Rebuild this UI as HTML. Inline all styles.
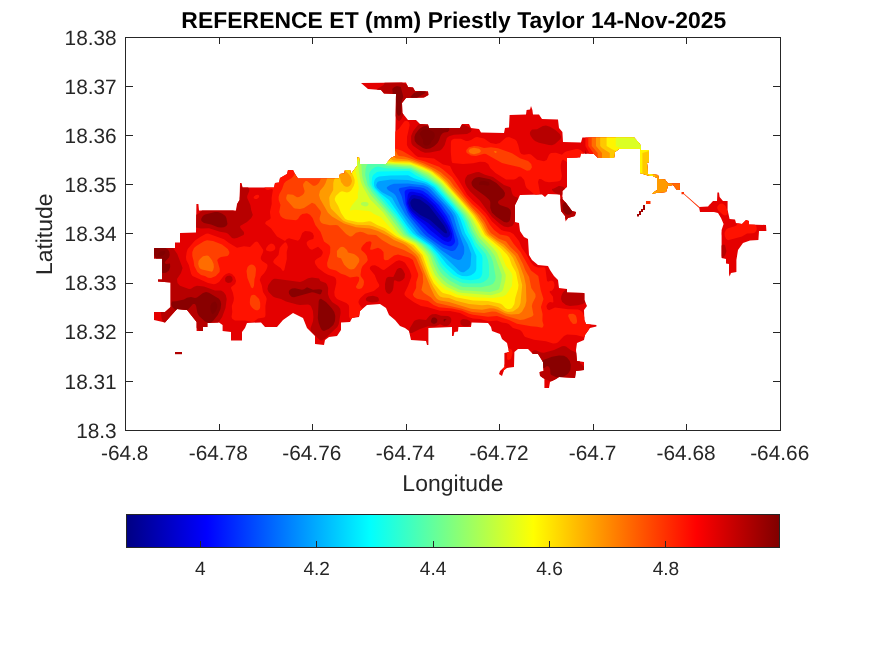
<!DOCTYPE html>
<html><head><meta charset="utf-8">
<style>
html,body{margin:0;padding:0;background:#fff;}
body{width:875px;height:656px;overflow:hidden;position:relative;font-family:"Liberation Sans",sans-serif;}
svg{position:absolute;left:0;top:0;}
text{font-family:"Liberation Sans",sans-serif;fill:#262626;text-rendering:geometricPrecision;}
.tk{font-size:20.83px;}
.cb{font-size:19.1px;}
.lb{font-size:22.9px;letter-spacing:0.08px;}
.tt{font-size:22.9px;font-weight:bold;fill:#000;letter-spacing:0.05px;}
</style></head><body>
<svg width="875" height="656" viewBox="0 0 875 656">
<defs>
<linearGradient id="jet" x1="0" x2="1" y1="0" y2="0">
<stop offset="0" stop-color="#000083"/>
<stop offset="0.123" stop-color="#0000ff"/>
<stop offset="0.373" stop-color="#00ffff"/>
<stop offset="0.623" stop-color="#ffff00"/>
<stop offset="0.873" stop-color="#ff0000"/>
<stop offset="1" stop-color="#800000"/>
</linearGradient>
</defs>
<rect x="0" y="0" width="875" height="656" fill="#fff"/>
<defs><clipPath id="sil"><path d="M154 248 175 248 175 242.4 180 242.4 180 233 196 232.5 196.4 204 198.4 204 199 210.4 236 210.4 237 204 239.6 200 240 183 241.6 183 242.4 187.6 274 187.6 275 183 279 182.4 280 178 287 174 288 170 293 170 295 174 298 178.5 339 178.5 340 174 344.4 173.6 345 170 350 170 351 174 357 166 357.6 157 359 157 359.6 164 386 164 391 158 395 156 396 94 384 93.6 381 90 368 89 361 83 406 82.4 408 87 413 87.6 415 91 428 91.6 428.4 95 424 97.6 406 98 402 103 402.4 113 408 120 416 120 420 124 428 124.4 429 128 460 128 462 124 469 124 471 128 479 129 481 132.5 504 133 505 128 509 127.6 509.6 115 526 114.4 526.6 110 530 109.6 531 106 532.4 110 533 114.4 539 114.4 542 119 558 119.6 559 128 562.4 132 563 142 581 142.4 582.4 137.6 634 137.6 639 143 641 146 641 150 649 150 649 162 647 163 648 174 658 175 659 179 665 179.6 668 183.6 680 183.6 679.6 190 677 190 673 185 668 186 666 192 652 193.6 657 190 657 178 653 176 648 175.6 640 173 640 149 619 149 615 152 614 158 598 158 594 154 581 153.6 580 157.6 567 158 567 187 562.4 191 562.4 199 566 203 572 211 576 212 575 216 568 218 565.6 221.4 565 216 561 211 560 194.6 548 194 545 197 542 194.6 520 195 515 205 515 222 519 223 520 231 524 237 528 239 529 255 532 260 538 265 548 266 550 270 554 276 558 280 559 288 567 289 567 292.4 584.4 293 584.4 300 587 306 584 310 584.4 320 586 324 596.4 325 596.4 326.4 590 328 585 335 584 340 577 343 576 350 577 361 584 362 584 370 576 371 575 378 559 377 556 379 550 382 549 388 544.4 388 544.4 379 540 376 539.6 372 543.6 371 543 362 538 354 533 354 528 349 518 349 514.4 352 514 367 507 368 504 370 502 376 499 374 500 371 504.4 367 504.4 353 509 352 507 343 502 339 500 334 492 331 491 327 488 323 471.6 322.4 471 327 458.4 327 458 331.6 454.4 332 453.6 336 452 336 452 327 428.4 328 428.4 345 427 345 426 341 411 340 409 331 405 328 400 326 395 320 389 315 386 308 380 304 367 305 360 311 359 317 352 318 350 322 341 322.4 341 330 337 336 329 337 325 340 324 345 315 344 315 336 307 328 303 318 293 313 283 320 277 327 265 327 261 322.4 247 323 245 328 242 332 242 340.4 231 340.4 231 332 222.6 331 222.6 325 219 322.4 207.4 323 207.4 327 203 327 203 331 196.6 331 196.6 322 187 310 177 309 165 322.4 154 320 154 312 165 312 170.6 307 170.6 282.4 158 281.6 158 279.6 162 279.6 162 258.4 154 258.4ZM699 207 708 206.4 713 201 717 201 717.4 192.4 719 192.4 719.6 197 723 201 727.6 201 727.6 210 729.6 219 735 219.4 736 223 742 224 746 220 749 221 749 224.4 766 225 766.4 231 759 231 758.4 240 750 240.4 743 243 738 250 736.4 260 736.4 272 731 273 729.6 276.4 729 274 729 264 726 263.6 726 259 721.6 258 721.6 230 723.6 224 721 218 718 213 714 212 700 212Z"/></clipPath></defs>
<g clip-path="url(#sil)">
<rect x="140" y="70" width="640" height="330" fill="#e40000"/>
<path fill="#ff1200" fill-rule="evenodd" d="M253.4 71 251.3 76 251.1 78 253 79.5 257 79.5 257.5 79 256.6 74 257.2 71ZM269.5 71 269.9 73 271 74.7 274 75.6 278 74.3 280.9 71ZM289.9 71 291 72 294 73.1 302 73.2 304 73.7 306 75.5 311 83 313 83.2 315 81.1 315.1 79 313.3 74 313 71ZM342.6 75 344.7 77 347 77.8 352 77.6 355 75.2 356.2 71 344 71ZM427.7 71 429 73.4 432 74.8 434 74 434.9 71ZM458.3 71 460 74.7 463 75.8 467 74.3 468.5 73 469.8 71ZM552.3 71 558 72.6 559 72.3 559.8 71ZM585.4 71 585.4 146 589.4 153 589.4 199 591 199.7 683.8 200 682.1 203 682 205 683 206.4 685 207.1 687 206.4 687.9 205 688.5 200 699 200 700 199 700 184.7 702.5 184 703.2 183 702 179.3 700 176.7 700 171.6 701 171.8 702 171.1 702.3 170 701.8 169 700 168.4 699.8 71ZM584 72.4 582.6 73 582 75 582.8 78 584 79.8 584.5 76ZM452 74.4 451 74.3 446.9 77 445.8 79 446.3 80 448 80.9 450.3 80 452.1 77ZM778 76.7 776 79.8 775.1 83 776 85.4 778 86.6ZM141 78.9 141 88.1 143.3 90 144.1 96 145 97.3 146 97.4 147 96.7 147.5 95 146.8 89 147.1 83 145 80ZM259.2 81 261 82.9 261.7 82 260 80.5ZM541 80.5 539.1 81 538 81.9 536.8 85 538 90.5 540 93.3 541 93.4 542 92.4 544.6 85 543.9 82ZM275.2 89 275.1 90 276 92 279 93.8 283 94.6 284.9 94 285.7 93 285.9 91 285.2 90 281 87.3 278 87.1 276.1 88ZM465 92.6 463 93.5 459 97.4 453 99.5 452 100.8 451.9 102 454.3 105 465 112.7 467 113.2 468 112.6 469 111 468.2 103 471 97 469 94.1ZM316 94.7 315 95.9 315 98 316 100 317 100.3 317.5 98 317 95.8ZM223 97.1 221 96.9 216 97.9 209 96.2 206.6 97 206.4 98 207.4 100 210 102.2 212.3 103 212.9 104 208.1 109 200.7 112 200.3 113 200.5 115 203 119.6 206 121.3 210 121.4 213 119.9 217.9 116 219.7 113 223.6 100 223.7 98ZM531.7 100 530 99.9 529 100.7 528.1 103 528.3 105 530 104.6 531.5 103 532.3 101ZM545.5 100 545.2 102 547.4 105 550 106.5 552 105.7 553.1 103 551.3 100 548 99.1ZM498.9 104 501 105.3 503 105 504.7 103 504.6 102 502 101.5 500 101.9 498.9 103ZM258 171 255.9 176 256.3 179 257.7 180 262 181.2 263.3 183 264.8 188 266 189.5 268 189.9 272 188.8 272.9 190 271.6 198 271.7 204 269.9 212 270.7 218 270 219.2 266 221.6 265.2 223 265.4 224 271 228.3 277 236.6 285 241 286.9 239 289 238.2 298 240.7 300 238.8 302.2 233 305 230.9 310 231.5 312.6 233 313.9 236 313.3 239 309 240.3 306.8 242 306.7 244 307.6 246 309.9 249 312 249.7 318 246.7 321.7 250 322.8 252 322.5 254 321 256.6 316.7 259 315 260.8 314.8 262 315.3 264 318 268.1 324.8 273 328 274.8 334 276.8 335.5 278 336.2 280 336.3 283 334.3 292 334.7 296 337 299 346.3 303 348.6 305 349.1 307 349 316.4 350.2 319 352 319.1 355.8 317 360 315.7 362 313.9 362.7 312 362.5 309 359 304 358.4 302 359 300 360.4 298 365 293.8 373.8 291 379 286.7 379.3 285 377 281.1 374.7 275 369.8 269 370 267 372 265.6 375 265.2 378.6 267 382 269.6 384 269.9 396 261.3 399 260.3 402 260.9 405 262.8 409.6 270 411.3 275 411.3 277 408 286 404.5 293 404.6 295 406.4 297 414 302.2 421 306.1 427 307 440 310.7 450 310.9 460 313.1 468 316.9 473 318.5 480 319 489 321.3 497 320.6 502 322.6 507 323.3 509 324.3 513 327.9 520 330.1 522.1 332 524.2 336 525.3 337 534 339.8 546 341.3 553 343.4 556 343.2 558 342.2 564 336.1 567 334.6 576 334.9 585 337.2 588 337.1 589 335.8 589 328.3 590.3 325 593 322.7 594 322.5 598 323.5 599.5 323 600.3 322 600 320.4 599 319.9 594 320.9 586 318.3 584.6 317 582.3 312 580 310.3 578 309.6 568 309.3 555 307.6 549 310.2 547.1 309 546.4 306 548 303.3 550 302.1 553 302.5 553.4 302 553 296.8 549.5 292 550 291.1 552 290.7 554 288 554.5 285 554 282.4 553 281 551 280.6 548 281.8 547 280.8 545.3 268 544 267.3 538 267.6 534 266 531 262.5 526.2 254 521.9 248 519 241.1 513.4 234 510 232 504 231 501.3 230 492 221.6 485.9 213 479 205.9 473 200.8 467 194.4 458.6 180 452.9 172 450 166.1 443 164.4 434 158.6 418 157 415.1 155 408.4 148 406.9 145 407 137 409.7 125 409 122.2 407 120.7 405 120.9 404 121.7 399 128.7 393 133.2 392.3 132 392.2 130 393.2 124 392 121.8 391 122.1 389 126 387 127.5 384 128.4 381 127.6 379.8 126 379.6 120 378.3 117 375 113.4 370 109.5 365 102.6 364 102.1 363 102.4 354.5 112 347 115.9 346.9 118 353 124.5 356 126.2 366 122.6 369 123.1 371 126 372.2 134 373.5 136 375 137 378 137.3 391 134.9 392 135.2 392.2 138 390.9 144 389.2 146 386 147 378 145.9 372 149.3 367 150 359.5 148 358.5 147 358.7 145 358 143.8 354 144.2 351 145.9 347.8 150 345 152 337 153.7 329.3 157 318 159.8 316.4 162 315.6 166 314.5 168 313 169.2 311 169.5 309 168.5 307.6 167 304.7 162 304.3 159 305 151 304.3 148 299.3 140 298 139.1 296 139 293.7 141 292.7 144 294.1 157 293 159.6 292 160.2 290 160 286 156.7 284 156.1 283 156.4 281.4 158 281.4 159 283.6 163 283.6 165 280.8 168 279 168.8 277 168.9 272 165.9 269 165.7 261.3 168ZM763 106.6 761.9 108 761.6 111 764 117.1 766 118.7 768 119.2 771.9 118 772.8 117 772.6 115 765 106.8ZM524.8 108 523 107.1 520.4 108 519.4 110 520 111.9 521.3 112 523.4 111 524.8 109ZM506 112.5 504 113.1 503 115 502.6 118 503 119.3 504 119.8 507 118.2 508.6 116 508.2 114ZM551 115.5 550 116 549.8 117 551 118.2 551.7 117ZM157 120.3 156.3 123 157.1 125 160 125.9 162.2 125 163.1 123 162 120.4 159 119.5ZM153 129.6 150 129.6 148.3 131 147.9 134 149 136 151 136.1 153.8 134 154.2 131ZM200 136.2 199 134.9 197 134.2 192 135.4 189.9 137 188 139.7 184 140.5 181 142 178.3 145 177.9 147 180 148.8 182 149.1 184 148.6 186.1 147 189 141.7 196 143.5 198 143.5 199 143 200.3 141 200.6 139ZM238 134.4 237.6 136 238 136.7 239 137 239.6 136 239.3 135ZM450.9 142 450.8 152 451.6 161 452.4 163 463 164 473 163.3 480 161.8 485 162 488.2 164 490.2 168 495.5 173 506 179.6 514 179.4 516 178.8 519 176.6 521 176.6 524.2 180 525.6 186 526.6 188 534 194 536 195 539 194.4 540 193 538 182 539 178.9 541 179 545 181.5 549 182.2 557 181.6 559.3 181 561 179.8 561.9 176 560.7 168 560.7 165 561.6 161 563 159.5 570 163.9 573 164.4 575 162.8 577 157.9 579 156.5 580 157.4 581.3 164 584 165.6 584 153.2 580.5 150 578 148.9 576 149 566 151.6 564 152.7 562 154.7 556 152.8 550.9 153 549 154.8 546.7 160 544 161.2 537 159.7 531 154.4 529 154 524 154.8 521.4 154 519.9 152 518.2 145 516.6 141 515 139.6 509 137 506 137.5 499.8 143 496 143.9 490.6 143 484 138.6 477 137.1 475 137.6 471 140.1 468 141.1 466 140.9 461 138.7 454 138.7 451.7 140ZM284 146.5 282.9 148 283 149.1 284 150 285 149.2 285.4 148 285 146.8ZM742 147.5 740 147.8 738.4 149 737.3 154 737.3 157 738 158.9 739 160.1 741 160.9 742.8 160 744 158.6 745.7 153 745.2 149 744 148ZM760.4 166 759.9 167 760.9 169 762 169.8 763 169.7 764 168 763.5 166 762 165.6ZM141 167.5 141 171.6 144.6 172 145.9 171 145.7 170 144.6 169ZM151.8 184 150 182.5 148 182.6 144 185.8 141 187 141 190.7 148 192.2 150 192 151.1 191 152.3 188 152.5 186ZM721 183.9 718.5 186 718.4 189 720 191 723 191.3 724.6 190 725.1 187 724 184.9 723 184.2ZM229 188.8 227 189 225.9 190 225.4 192 226 193.4 228 193.8 230.5 192 230.7 190ZM770 189.8 769.5 192 770 193.8 771 195.1 772 195.4 773.3 194 773.2 192 772 190.1 771 189.5ZM259 195.5 258 194.8 256 195 254 196.5 253.5 198 255 199.1 257 198.9 259.2 197ZM546 196.5 546 198 548 200.5 549 200.8 550 200.1 550 198.3 549 197.2ZM580 197.8 580.1 200 582.9 206 584.3 211 589.7 216 594 225.4 595 226.1 596 225.8 598 223.9 599.1 222 599.7 220 599.4 218 590.5 207 588.9 201 587.7 200 585 200 584 198.7ZM702 199.9 702 202 704 204.3 708 205.7 709.9 205 710 201.7 709.1 200 708 199.2 704 198.6ZM719 204.4 717.2 207 717.4 209 718.7 211 723 214.7 725 215.4 726.5 215 727.4 214 727.8 212 725.6 206 723 203.8 721 203.6ZM551 208.4 550.4 209 550.7 210 552 210.1 551.9 209ZM607.8 211 607 213 608.2 215 614 218.1 616 217.8 616.5 216 613 212.1 610 210.6ZM756.3 226 754 223.5 746 218.6 743 217.4 741 217.4 738.8 219 736.9 225 735 226.3 728 228.2 726 229.8 724.5 233 724.8 236 726 238.7 728 240.3 742 236.6 747 233.5 753 233.3 755 232.5 756.3 231 756.8 229ZM612 226.9 610 227.1 606.9 229 606.1 231 607 238 608 239.9 609 240.6 611 240.3 612 239.5 613.7 236 614 229.7 613.4 228ZM708 229.4 706.7 235 706.9 237 707.7 238 710 238.6 715 238.2 718 239.4 719 239.3 720 238.4 721.6 234 721.3 232 720 230.2 710 228.4ZM195 240.6 187.7 249 186.7 252 186 257 186.3 260 188.8 265 191.2 274 192.5 276 208 283.1 214 284.3 216 283.8 219 282 223.6 276 226 274 229 273.1 232 274 234.8 277 236.1 281 235.1 284 231.3 287 231 288 233 292.9 233.9 298 233.6 301 231.8 306 232.3 312 231.5 317 232.4 319 235 320.5 245 320.4 252 322 254 321.5 258 318.6 264 317.6 265 317 265.5 315 265.4 306 266.7 299 266.1 297 263 292 261.7 285 259.7 280 261 276.6 264.3 273 266.2 270 267.4 267 267.5 265 266.9 264 262.2 261 260.8 259 260.8 257 263.1 252 263.3 250 258 242.2 257 241.6 255 241.9 250 247.1 244 246.2 237 247.8 229 243 224 239.2 208 233.4 206 233.8 201 236.4ZM285 242.2 282 244.9 279.7 248 278.5 255 273.9 260 273.1 262 274.8 264 280.6 268 283 271.3 284.3 270 286.8 259 286.7 252 287.9 247 287 244 286 242.6ZM271 243.6 268.5 245 266.2 248 266 250 267 250.7 270 251.5 272 251.3 274 250.3 275.2 249 275.3 247 274.2 245 273 243.9ZM623.1 247 622.3 249 624.6 255 626 256.3 628 256.4 629.4 255 630 253 629 249.4 627.9 248 626 246.8ZM141 250.1 141 253.3 142.4 252 142.3 251ZM550.5 265 552 265.5 553.8 265 554.7 263 554 262.2 552 262.5 550.2 264ZM591.8 264 591.4 266 594.3 271 597 278.3 599 279.5 602 278.3 605 275 606.4 272 606.4 269 605.1 266 602 264.6 594 263.7ZM752 276.6 751.7 278 752.2 279 754 280.4 756 280.5 762 278.7 765 279.5 767.6 282 768.8 284 767 290 767.7 292 769 293.4 772 295 778 296.5 778 272.8 771 271.1 762.4 271 757 274.5ZM654 286.7 652 286.6 650.4 288 650 290 651 291.6 653 291.6 654.4 290 654.9 288ZM616.5 301 615.4 303 615.3 305 617 308 619 309.4 620 309.4 623.5 308 624.5 306 622.6 303 619 300.4 618 300.3ZM630.8 306 629.5 308 629.5 309 631.9 313 639 320.3 648 325.9 649 325.3 650.5 319 650 316 641 308.3 636 304.7 634 304.2ZM373.5 326 374.1 328 375 328.5 377 328.5 383 326.4 389 325.4 390.4 324 390.9 322 390 320.3 389 319.8 378 317.4 376 318.5 374.2 321ZM672 326.2 670 326.2 667 328 665.3 330 665.2 332 666.5 333 669 333.5 671 333.1 672.9 332 673.5 331 673.6 329ZM622 334 621 333.4 619 333.5 611.1 338 611.1 340 612 341 614 341.9 618.1 341 620.9 339 622.3 337 622.5 335ZM713.1 341 713.4 342 715 342.7 717 342.4 721 340.8 722 341 722.8 342 723.6 347 725 349.3 728 350 730 349 730.1 347 725.8 341 726.3 336 726 335 725 334.2 723 334.5 719.1 338 715 339.2ZM252.9 337 252.5 339 253.4 340 256 341.1 258 341 258.4 339 257 337 255 336.3ZM652 343.4 650 346.1 649.8 350 651 352.1 655 356.1 656 355.7 656.3 354 655.2 346 654 343.9ZM510 348.9 508 349.5 507 351.2 507.1 359 508 360.1 510 359.6 511 358.7 512.7 353 512.1 350ZM634 350.9 632.8 353 632.6 356 633.7 359 635 359.7 638.2 358 639.8 356 639.8 355 636.9 352 635 350.9ZM352.7 359 355.2 359 356.3 358 356.4 357 355 356.6 352.8 358ZM680 357 679.5 359 680.7 361 682 361.6 684.2 361 684.5 360 683.1 358 681 356.9ZM207.9 360 207 358.5 205 357.8 201 358.8 194 359.1 190.3 361 185 365.7 182.8 365 180 360.5 179 359.9 178 360.4 177 362.2 175.4 369 175.6 372 177 374 181 376.4 185 377.4 188 377.1 190 375.5 194 370.6 196 369.7 202 368.6 206 366.2 208.1 363ZM504 364.1 502.8 366 502.4 369 503.1 371 504 372 505 372.1 506 371 506.2 369 505 365ZM775 368.4 773.6 371 773.9 373 775 373.6 778 373.4 778 368.4ZM207 375.5 206.8 377 207.9 379 213 383.1 217 383.9 219 383.1 219.8 382 220.5 376 220 374.3 219 373.4 217 373.2 208 374.8ZM331 374.6 329.2 375 328 376.1 326.4 381 326.7 383 329 386.4 331 387.1 332.6 386 334 384 336.4 378 335 375.8ZM485.8 375 484 374.4 482 375.2 480.3 378 481 379.9 483 379.3 484.7 378 486.1 376ZM529 378 525 374.6 523.7 375 522.9 379 523.3 388 522.2 391 520 394.6 519 395.3 518 395.1 512 391.7 505 391 503.2 392 503 393 504.7 398 519.8 398 525.1 392 526.8 387 529.9 381ZM669 376.1 667 376.8 666 378.2 665.2 382 666 383.4 668 383.7 669.9 383 671.8 381 671.8 378 671 377ZM294 379.3 292 378.5 290 378.9 286.6 381 284.7 383 282.9 388 281.9 398 288.7 398 293.6 392 298.8 387 298.7 384ZM741.3 386 740.3 384 737 382.9 732 384.3 728 383.3 727 383.7 726.5 385 727 386.7 728.7 388 735 389.4 739 388.5 740.9 387ZM769 389 768 388 764 386.5 760.3 384 758 383.9 752 387.7 746 389.5 745.2 391 743.7 398 753.9 398 756 393.5 758 392.5 761 393.3 765.2 398 766.9 398 769.1 392ZM383.6 389 382.9 391 383 398 394.6 398 392.6 395 388 390.6 385 388.7Z"/>
<path fill="#ff4000" fill-rule="evenodd" d="M588.3 71 588.3 146 593.4 153 593.4 199 605 199.6 699 199.6 699.6 199 699.5 71ZM466.3 150 466.3 152 466.9 153 471 155.6 476 155.9 484 153.7 486 154 502 163.1 520 167.3 527 170.7 530 170.2 532 167.2 531.2 164 528.1 161 520 158.3 512 153.2 498 148.2 491 147.3 484 147.9 478 146.3 474 145.9 469 147.2ZM284 183.4 282.1 189 279.4 194 278.6 197 278.7 200 280.5 205 279.2 212 280.6 216 282.9 218 286 219.2 296 220.3 298 219 300 215.8 302.3 214 307 213.3 310 214.8 312.6 218 315.3 225 320.6 232 324 241.4 329 245.1 330.3 247 330.1 253 327.1 263 327.3 266 328 267.6 330 269.1 336 270.5 341 273.7 345.1 275 350 277.5 357 276.6 358.8 277 359.3 278 358.9 281 355.8 287 357 288.5 359 289.1 361 288.6 362 288 363.6 285 364 282 363.6 280 361 276.5 360.5 275 361.3 269 362.6 266 366.7 262 367.8 260 366.9 256 365 253.3 361.3 250 361.2 248 363 245.3 366.4 242 370 241.3 371.2 242 371.5 243 370 249.5 372 249.8 378 247.8 381 249.2 383.5 252 383.8 259 385 260.3 388 260 394 255.4 398 254.4 409 257.6 412.9 260 418.2 274 418.2 276 416.3 282 416.1 288 413 294 413 295 414.2 297 417 298.8 428 300.9 433.5 305 439 307.3 452 308.5 462 310.8 469 313.8 473 314.7 488 316.7 497 316 509 320 517 323.8 531 326.3 537 326.7 542 327.7 543 326.9 543.6 325 542.4 321 542.6 314 540.9 307 543.5 299 540.7 290 538.3 276 531 270.5 520.5 252 513.8 244 509.1 237 507 235.8 500 234.4 494.1 230 490 225 485 216.7 478 209.2 472 203.9 465 196 452 177.3 443 169.5 439 166.8 425 161.5 416.2 159 402 150.8 395 148.4 372 152.1 358 153.4 338 156.3 326 159.4 322.9 161 320.7 163 318 170.8 315 173.9 313 174.6 310 174.5 303 170.8 300 170.1 298 170.2 296 171.3 293.5 176 291.8 178 286 181.3ZM207 240.3 204 241.3 196.3 246 194 248 192.3 252 192.3 256 193.6 261 194.3 266 197.4 272 201 274.9 205 276 208 277.7 211 277.9 215.8 276 219.6 272 219.8 269 217.2 260 219 258 221 257.1 227.6 256 229.2 254 229.4 252 227.8 249 222 244.6 213 241.1ZM251 264.4 249 265.4 247.6 267 246.5 271 247.4 278 251 287 252 288.2 253 287.9 254 285.7 254.5 279 255.4 276 256 270 255.8 268 254.7 266 253 264.7ZM251 295.8 250 299 249.8 303 250.3 305 252 307.5 254 309.2 256 310.2 258 310.3 259.6 309 260.2 307 260.2 303 259.1 299 255 295.1 253 294.7ZM568.9 314 568.1 316 570.4 321 573 324 576 323.8 576.7 323 577.1 321 576.4 317 575.4 315 573 313.7Z"/>
<path fill="#ff6d00" fill-rule="evenodd" d="M591.7 71 591.7 146 597.7 153 597.7 199 633 199.6 699 199.2 699.2 71ZM468.5 151 470 153.2 474 154.3 479 153.1 480.4 152 480.8 151 480.5 150 479 148.8 474 147.7 470 148.8ZM287 194.8 286.1 198 286.7 200 293.8 208 295 208.6 300 208.9 304 208.1 312 202.8 315 204 320.6 211 321 213 319.6 218 319.7 220 321 222.4 323 223.8 330 225.3 336 224.9 338 225.4 346.1 234 350 236.4 352 236.2 356 232.8 360 231.8 363 232.2 368 234.4 376 235.1 382.1 240 391 245.3 404 250.1 412 254.2 415 256.8 416.5 259 422.7 274 423.2 282 421.4 290 424 293 431 297.6 434.1 301 437 303 461 308.4 472 311.9 484 312.9 492 311.5 496 311.7 506 315.9 520 319.9 524 319.5 532 316.4 533.5 315 531.8 306 532.6 303 535.6 297 535.4 294 531.3 288 529.1 277 525.2 270 522.9 264 517.7 254 510.4 247 506 241.5 499 238.8 490.9 233 488 228.8 484.7 222 479.5 215 471 206.2 458 190.4 454 186.3 449.6 180 441 172.5 435 168.7 424 163.5 409 157.9 404 156.5 399 155.9 397.7 155 396 151.5 394 150.6 359 154.7 337.6 158 327 160.8 324.4 163 323 166 320.4 180 319 182.7 317 184.8 315 185.7 313 185.7 307 181.1 305.5 181 303.2 184 303.1 186 304.6 191 304.2 193 302.5 195 299.1 197 297 197.3 293 194.8 288 194.3ZM493.9 151 495 152.9 496 153 496.8 152 496.1 151ZM340 247.6 336.9 251 337 256.5 338 257.4 341 258.2 344 264.6 347 267.6 349.1 269 351 269.5 354 268.9 355.8 267 359.1 262 359.4 260 358.8 258 356.9 256 354 254.1 348 252.4 347 250 344 247.3 342 246.8ZM203 256.2 200 258.9 198.6 261 198.2 264 199 267.1 200 268.6 202 269.5 212 271.7 213.2 270 213.9 267 213.6 264 212 260.3 208.7 256 207 255.5Z"/>
<path fill="#ff9b00" fill-rule="evenodd" d="M596 71 596 146 602 153 602 199 650 199.4 671.9 199 671.9 71ZM329.7 165 329 167 329 173 325.6 183 324 186 320 190.7 319 195 320.1 199 328 212.7 332 216.4 344 223.4 356 227.3 370 228.5 378 230.9 388 236 394 240.1 403.5 244 406.6 246 415.7 254 418.2 257 430.7 288 434.6 296 437 299.1 440 300.4 449 302.1 471 308.8 482 309.8 490 308.3 494 308.5 498 309.7 505 313.3 511 314.6 519 313.9 522 311.7 525.2 306 526.4 301 525.9 285 523.9 276 519.3 264 515.3 256 504 244.6 496.4 240 489 234.3 487 231.5 483.3 224 477 215 452.6 188 447 181 439.2 174 431 168.7 422 164.5 412 160.7 407 159.4 396 158.6 394 157.1 392.3 154 389 153.1 383 153.1 372 154.7 361 155.5 348 157.7 337.3 161Z"/>
<path fill="#ffc800" fill-rule="evenodd" d="M600.2 71 600.2 146 602 148 609.8 153 609.8 199 655.3 199 655.3 71ZM347.1 160 344.5 170 349 174.3 351 177 352 181 351.1 184 350 185.6 348 186.8 346 186.7 344 185.7 341 182 339.2 174 338 173.9 336 176.2 334 180 333.3 183 333.2 190 329.8 196 329.2 198 329.8 205 331 208.4 343 220.4 346 222.1 356 224.7 369 225.3 373 226.3 384 230.8 395 237.8 406.5 243 411.1 246 420 255 428.8 278 433 286.4 438 294.5 440 296.4 443 297.4 449 298.1 456 300.8 469 304 482 305.3 488 304.8 491 305.2 498 307.1 504.6 311 508 312 513 311.6 518 307.9 519.4 306 520.5 303 522.2 285 518.3 270 513.1 258 509.3 253 503.2 247 487.3 235 485.1 232 481.2 224 475 215 451.5 189 446.7 183 439.2 176 431 170.1 418 164.3 409 161.3 394 160.6 392 159.9 389 156.7 386 155.3 361 156.3 349 159Z"/>
<path fill="#fff500" fill-rule="evenodd" d="M606.6 71 606.6 146 612 149.2 620.6 153 620.6 199 642.4 199 642.4 153 649 151.1 649.2 199 652.7 199 652.7 71ZM350.7 161 350 163 350.4 170 353.8 177 354.7 180 354.6 183 353.7 186 351 190.5 349 192.1 347 192.4 342 191.3 340 191.9 335.8 196 334.7 199 335.2 201 338.2 206 341.1 213 345 218.7 347.5 220 358 222.2 363 222.3 369 221.3 371 221.5 377.2 225 385 228.3 396 236.2 413.5 245 422.4 255 429.6 275 434 283.4 441 291.5 443 293 450 294.7 456 297.3 473 300.4 488 301.1 500 303.4 502 304.5 505.3 308 507.5 309 510 309 512 307.9 514.4 304 515.3 298 518 289.1 518.5 285 516 272.5 511.8 265 509.3 258 507 254.6 500.7 248 485 235 479.1 224 473.9 216 462 202 443 181 432.2 172 423 167.5 410 162.6 395 162.2 390 161.6 388.8 161 387 157.8 385 156.6 361 157.1Z"/>
<path fill="#dbff24" fill-rule="evenodd" d="M615.8 71 615.8 146 622 148.5 640 148.5 649 146.4 649.8 147 650.1 199 650.1 71ZM355.4 161 354.4 163 354.8 168 357.6 180 358.8 188 357.7 194 358 198 352.2 205 349.8 209 350 210.6 355 209.7 368.5 211 371 211.8 374 214 381 217.2 394 232 397.3 235 402.1 238 415 244.3 422.3 252 425.1 256 430 270.3 434 278.5 438.2 284 445 289.5 450 291.1 458 294.9 475 297.2 493 298.1 503 296.4 506 294.8 512 286 512.5 276 511.5 273 506 266 500.3 252 497 248 483 235.1 475.3 221 471.4 215 461 202.7 442 181.6 430.2 172 421.5 168 410 163.7 389 162.6 387.6 162 385.4 158 384 157.4 362 157.7 360 158.3Z"/>
<path fill="#aeff51" fill-rule="evenodd" d="M358.5 161 357.7 163 359.7 177 360.9 182 362.5 186 370 199.3 383 212.2 397.5 232 400.3 235 403.1 237 415.6 243 424.8 252 428.1 257 430.9 266 435 275 441.7 283 447 287 458 292 461 292.8 491 295.2 499 293.1 502 291.3 503.2 289 505.4 280 505.8 275 497 253 493 248 481.1 236 472.7 220 467.9 213 442 183.5 429 173 411 165 388 163.4 386.1 162 384.9 159 383 158.2 362 158.6 360.8 159ZM360.9 203 361.3 205 365 206.4 367.5 206 368.7 204 368 202.7 366 201.9 363 202Z"/>
<path fill="#81ff7e" fill-rule="evenodd" d="M362 160.4 361.3 163 362 175 362.8 179 364.9 185 370.8 195 384.3 210 403.6 235 418 243 421.9 246 427.5 252 430.3 256 433.5 265 437.3 273 439.4 276 444 280.8 448 284 459 289.4 462 290.2 490 291.9 497.3 290 499.1 289 501.3 281 501.8 275 494.8 256 489.8 249 479 237.5 475 230.7 470.2 220 466.3 214 455.3 201 447.5 193 441 184.8 428 174.8 411 166.4 388 164.5 385.3 163 383.8 160 382 159.4 366 159.7Z"/>
<path fill="#53ffac" fill-rule="evenodd" d="M367.7 164 366.4 166 365.6 169 365.2 175 367.6 185 372 192.3 393.8 218 405.5 234 409 236.6 416 240.2 421.9 244 430 252 432.6 256 438 268.1 440.4 272 443 274.9 450 280.8 460 286.1 463 287 481 287.2 490 285.3 493 283.7 495 280.7 495.7 277 493 262 491.1 257 487 250.4 479 241.9 477 239 472 230 468.4 221 464.8 215 438.9 185 427 176.6 411 167.9 387 165.9 384.5 165 381 162.4 379 162 371 162.7Z"/>
<path fill="#26ffd9" fill-rule="evenodd" d="M372 169.2 369.8 172 369 175 369.7 184 372.3 189 395.9 217 407.2 233 410 235.5 425.4 245 431.4 251 435 256 440 266 444.1 271 451 277.2 460 282 463 283.1 469 283.6 480 283.2 483.6 282 487 279.5 488.7 277 489.1 275 488.8 265 487.9 260 485.6 254 476.4 243 470.5 232 466.6 222 462.7 215 454 204.4 437 185.2 430 180.4 410 169.3 386 168.3 378 166.5 375 167.2Z"/>
<path fill="#00f7ff" fill-rule="evenodd" d="M373.2 175 372.2 177 371.6 183 372.4 186 374.2 189 383.8 199 397 215 409.7 233 428.9 246 436 254 442 263.9 446 268.3 453.4 275 462 279.3 471 280.2 478 279 480 278 481.5 276 482.3 273 482.5 258 481.8 255 475 246 472 239.3 467.9 232 464.3 222 460.5 215 453 205.5 435.7 186 430 182.2 416 175.6 411 172 409 171.1 380 171.4 377 172.1Z"/>
<path fill="#00caff" fill-rule="evenodd" d="M376 177.9 374.6 180 373.9 183 374.2 186 375.1 188 380 192.9 389.1 200 407 225.7 412.8 233 416.4 236 431 246 437.7 253 447 264.5 457.5 274 462 276 467 276.3 471 275.3 474.3 273 475.7 271 476.3 269 476.4 256 469.8 241 465.1 233 460.3 219 457.6 214 453 208 434.2 187 427 182.5 414 178.2 408 175.2 390 175.4 379 176.5Z"/>
<path fill="#009dff" fill-rule="evenodd" d="M377.5 182 376.1 185 377 187.8 382 192.2 391 196.9 392.2 198 396.6 206 408 223 417 234.3 432.2 245 460 271.6 462 272.3 464 272.2 468.5 269 470 267 470.6 265 471.3 254 467.6 244 462.1 234 456.3 216 454.6 213 449.8 207 432.5 188 429 185.4 424 183.3 408 180 391 179.5 379 181.2Z"/>
<path fill="#006fff" fill-rule="evenodd" d="M387.1 187 386.6 188 388 190 394 193.8 395.9 196 399.9 205 405.5 215 420.1 234 433.9 244 441 249.9 453 258.2 458 259.9 460 259.8 461.3 259 463.9 254 464.3 251 464.1 247 457.3 229 453.4 216 451 212 446.1 206 430.3 189 427.7 187 423 185.2 408 183.4 394 183.8 390.2 185Z"/>
<path fill="#0042ff" fill-rule="evenodd" d="M399.8 188 398.9 189 398.8 190 401.6 196 403.7 204 407.4 213 410 216.9 423.3 233 426.5 236 443 247.7 451 251.1 453 251.1 455.1 250 457 247.3 458.5 244 458.1 240 449.8 216 441 203.8 428 190.8 424 188.3 420 187.3 410 186.3Z"/>
<path fill="#0014ff" fill-rule="evenodd" d="M405 190.8 404.6 192 405.7 204 408.4 211 412 216.2 427.8 233 441 242.8 444 244.6 449 246.3 451 246.3 453 245 454.6 243 455.1 241 453 231 450.1 223 446.7 216 438.8 205 428 194.5 423 191 419 189.8 411 188.9 407 189.6Z"/>
<path fill="#0000e6" fill-rule="evenodd" d="M409 192.6 407.8 195 406.8 203 408.8 209 411 212.5 417 218.5 425.1 225 430.1 230 442.7 240 445 241.3 448 242 450.7 241 452 237.4 452.2 234 449.3 226 444 216.4 435.4 205 428 198 422 193.8 413 191.8 411 191.8Z"/>
<path fill="#0000b9" fill-rule="evenodd" d="M411 195.5 408.6 200 408.2 203 410 208.4 412 211.3 419 217.3 428.1 223 444 237 447 237.7 449 236.5 450 235 450.2 233 447 225.5 442 218 432 205 426 199.8 421 196.5 414 194.8Z"/>
<path fill="#00008b" fill-rule="evenodd" d="M412 199.3 410.8 201 410.2 203 411 206.1 413 209.3 420.3 215 430 220.1 444 232.6 446 233.5 447 233 446.8 231 444 225.4 429 206 420 199.5 414 198.3Z"/>
<path fill="#b70000" fill-rule="evenodd" d="M170.5 71 180.3 71 180.6 73 180 74.2 178 74.8 173.4 73ZM217.9 71 222.5 71 221 72ZM484.7 71 491.5 71 491 72.9 490 73.9 488 74.3 486 73.6ZM711.3 71 724.1 71 722 73.8 718 74.5 713 73.6 712 72.8ZM755 71 768.6 71 770 76 769 77.2 768 76.9 765.7 73 764 71.6 758 73.1 756 72.4ZM211.5 73 211.2 77 209 79.2 201 81.1 199 81 197.5 80 197.4 78 199 76.6 204 75.3 210 72.3 211 72.1ZM376.7 90 378 88.4 383.6 85 384.5 83 384.4 78 386 76.4 388 76.1 390 76.4 398 79.7 404 83.6 407 84.5 419 83.1 424 81.5 426 81.6 437 87.7 443.7 90 445 91.5 445.4 94 443.4 102 442 105.4 440 107.4 436 109.5 434 109.3 427 102.8 424 101.2 422 101.5 417 104.4 415 104.7 412 103.8 407 100.8 405 101.2 403.8 104 404 112 403.4 115 401 119.5 399 120.9 397 119.8 394.3 114 393.5 111 393.5 104 392.9 102 392 101.1 390 100.4 383 100.3 381 99.3 377.2 92ZM701.3 88 701.5 89 700 90 700 87.8ZM575.3 107 577 105.9 580 106.5 582 108 582.3 110 580 112.4 578 112.2 575.7 110 575 108ZM741.6 106 743.5 110 747.9 112 748.3 113 748 113.8 744 116.1 742 118.1 740.6 121 740 125 738.1 126 733.3 127 730 127 728.7 125 728.8 114 729.3 112 731 110.8 736 109.6 739.2 106ZM322 109.6 324 109.6 325 110.4 329.7 118 329.7 120 329.1 121 325 123.3 323 123.3 321 122.2 317.2 119 316 117 318.8 112ZM237 111.6 237.7 113 237 114 236.1 113ZM411.2 142 411.1 136 413.2 131 418 125 426 120.3 429.8 123 432 123.7 447 122.7 457 124.7 464 124.8 468.8 127 471.3 129 471.7 130 470.8 132 467 134.1 454 134.8 449 136.2 446.8 138 444.7 145 442 149.1 440 150.4 430 152.6 425 152.7 421 151.3 413 145.8 411.7 144ZM530 132 532 129.4 537 129.2 542.8 126 546 125.6 550 126.8 555.4 130 559.9 134 561.3 137 560.4 139 555 144 552 145.2 549 145.1 539 142.7 535 140.9 532.8 139 530.7 136 529.9 134ZM763 130.4 765.4 131 766.9 134 766 143.3 764.9 143 763.8 139 760 135.8 758.9 134 759.9 132ZM712 135.8 712.6 137 712 138 711 138.4 710.4 138 710.6 137ZM212 146.2 213.6 148 214.3 150 214.4 153 213.7 156 212 158.6 208.8 161 204.8 175 203 177.3 201 177.9 199.7 176 199.6 170 198 165 198.1 163 200 160.3 204.2 157 209 147.4 210 146.2ZM323.6 152 326 149.9 328 149.8 329.6 151 329.1 153 327 154.3 324.2 154 323.6 153ZM585 150 586.6 153 586.6 199 585 199.3 584.5 178ZM467.5 175 476 172.2 479 172.1 485 174.7 493 176.9 504 185 509.8 187 510.8 188 512 193.2 513 195.3 515 196.7 519 198 521 200 522.4 208 521.7 210 519 211.2 517 213 516 215 514.2 223 512.3 226 508 227.3 504 226.6 500.1 224 492 217.1 480 200.7 470 191.2 466.9 187 465.4 184 464.8 181 465.5 178ZM252.8 215 251.3 218 247 222.1 240.1 226 240.4 228 243.9 232 244.1 234 243.5 235 237 238.1 234 238.6 232 237.9 228 233.7 226 232.7 220 231.7 209 228.3 201 228.5 193 227 191 225.7 188 221 186 219.8 182 220.4 176 222.9 175 222.5 173 216.6 171 213.9 169 213.2 164 214 162.6 213 163 211 165 209.5 170 209.6 174 207.3 176 207 182 209.5 189 213.7 194 214.8 197 214.5 199.3 213 204.3 208 205.5 206 206.8 201 208 199.5 210 198.5 212 199.2 215.5 203 218 204.9 220 205.4 225 204.8 227 205.2 235 211.5 236 211 237.3 204 239.6 196 240.5 186 241.8 184 244 183.3 247 185.3 249.2 189 249.3 191 247.2 196 247.2 198 250.4 205 251.2 210ZM552 188.9 554 188.6 558.7 186 560 185.9 563.8 187 565.2 189 563.8 193 562 195.3 561 195.5 558 194.5 553.8 192 552 190ZM562 197.1 566 197.3 570 198.6 574 202 576.5 206 577.1 210 576 214 574 217.1 571 219.2 568 219.8 564 219.2 562.3 218 561.3 216 558.8 207 558.5 204 559.7 200ZM622.6 206 624 205.4 626.3 206 627.5 207 628.1 209 626 209.9 624 209.3 622.5 208ZM639 211.1 640 210.6 641.3 211 642.9 213 643 214.3 642 214.9 639.7 214 638.9 213ZM665 229.1 667 229.2 668.8 230 669.4 231 669.4 233 667 236.3 665 237.3 663 237.3 661.4 236 661.5 233 663 230ZM640.4 232 641 231.4 644 232.4 645.5 234 645.4 235 644 236.1 642 235.9 640.7 234ZM539 240.2 540 243 539 245.8 534 250.9 533 251.2 532 250.7 529.8 248 529.7 246 534 243.7 537 240.3 538 239.8ZM153 242.9 156 242.8 170.3 246 173.1 248 177.3 254 182.6 268 181 272.9 177 279 177.5 283 180 285.8 189 289.1 191 288.8 194 286.7 197 285.7 204 286.5 215 290.5 221 290.5 223.5 292 225.8 295 226.7 299 225.5 308 222.2 317 216.7 325 211.1 337 209 338.9 203.6 342 200.5 345 198.9 345 197.4 343 197.5 341 199.7 335 199.3 331 194.6 326 190.6 319 189 318 187 317.9 180.7 319 178.5 320 173 324.9 170 326.5 168 326.4 163.2 322 161.7 319 160.3 308 161.8 300 161 297.5 159 295.9 156 295.5 154 296 150 298.8 147.7 299 146.7 298 146.8 297 149.4 293 149.6 291 148.9 289 147 287.1 146 286.9 141 289.4 141 281.5 146 283.3 153 278.1 153.7 277 153.1 262 150 255 149.5 252 150.2 246 151.4 244ZM550 245 551.3 246 551.7 248 550.6 250 549 250.7 548 249.9 547.7 247 549 245ZM724 244.6 725 245.3 726.5 251 725.3 255 723 258.2 722 257.9 721 255.8 720.8 248 721 246.1 721.8 245ZM778 247.8 778 255 774.8 255 773.8 254 773.6 251 775 249ZM401 268.1 403 269.9 405 273.9 404.5 278 402.6 280 400 281.5 398 281.5 395 280.3 394 280.7 393.3 288 392.4 291 390 293.7 388 293.8 386.1 292 385.1 289 385 284 386 279 387 277.6 389 276.7 393.3 277 397 269.2 399 268ZM227 275.9 230 275.5 232.1 277 232.8 280 231 282.5 228 283 226 282 225.2 281 225.2 278ZM272 280 274 278.8 276 278.7 300 282 303 281.1 308 278.3 312 277.6 319 278.4 320.4 281 325.8 283 327 284.6 328.2 288 327.9 294 329.3 298 332.1 302 338.2 306 340.3 309 340.6 313 338.8 324 337.3 327 325 338.8 322 340.4 320 340.3 311.7 332 310.6 330 310.6 328 313 321.3 313.4 317 312.9 311 311 306.3 310 305.3 308 304.6 300 305 297 304.6 286 301.6 281 298.9 275 297.4 273 296.4 268.6 292 267.4 289 268.3 285ZM561.3 296 563 292.3 566 289.4 570 287.8 574 287.4 578.7 289 584 292.5 586.2 296 586.6 300 585.8 302 582.9 304 578 305.3 569.9 306 566 304.9 562.2 302 561 299ZM365.8 299 366.2 298 368 296.6 373 295.7 377.5 297 378.5 298 379 300 378.6 301 377 302.1 372 302.5 367 301.2 365.9 300ZM758.9 300 760 299.5 762 300 763.3 302 763.1 304 761 304.4 759 303.1 758.4 301ZM749 302.5 749.2 301 750 300.3 751 300.2 751.7 301 751.5 302 750.2 303ZM690 309.5 691.1 311 690 312.5 689.1 312 689 309.8ZM451.3 319 451.3 321 450.6 323 449 324.9 447 325.9 444 325.9 440 324.3 435 326.5 428 326.3 420 329 412 333.1 410 332.9 409.2 332 409.9 328 414.1 321 416 319.9 419 319.3 426 320.1 429.3 316 432 314.2 436 314.1 441 315.8 448 315.9 450.1 317ZM757 318.2 759 320 759.7 322 760.5 327 760 329.8 758.8 331 756 332.1 753 332.3 750 331.5 748 329 748.7 326 752.2 322 754 318.6 755 318ZM460.3 321 461 320 463 319 467 319.4 469.8 321 470.6 322 470.9 324 470 325.2 468 326.2 464 326.3 462 325.5 460.5 324ZM430 343.1 434 342.8 439 344.3 440.2 346 440.4 348 440.1 350 439 351.7 437 352.9 435 353.3 432 352.2 430.6 350 429.3 346 429.3 344ZM239.8 345 242 343.3 244 343.6 249.3 348 249.8 350 247 352.3 244 352.6 242 351 239.5 347ZM396.6 345 399 344.6 401 345 402.5 346 403.8 348 404.8 362 407 365.1 407 366.4 406 368 405 367.8 402.5 363 396.9 359 396.7 354 394.5 348 395 346ZM588.8 373 587.4 376 584 378.7 581 379.3 574 378.3 572 378.5 569 380 564 384.8 546 379.7 542 377.4 538 373.7 534 371 532.3 369 531.4 366 532.3 360 531.4 353 532.6 351 534 350.3 536 350.3 541 352.5 544 352.7 554 349.9 562 346.3 564 346 566 346.5 571 350.2 577.4 353 578.9 356 580.2 363 587.2 370ZM751 359.8 753 361 754.2 363 755 366 754.8 368 754 369.6 752 371 748 371.2 743.6 369 742.7 367 743.5 365 746.3 362 749 360.2ZM144 366.1 144.9 367 144.7 369 143.5 371 141 372.5 141 365.9ZM718 367.2 718.5 368 718.5 370 717 372.5 714 373.7 711.7 373 711.8 371 713 369.6 716 367.3ZM643 370.9 643.8 372 643 374.5 641 375.9 639 375.5 638.4 374 639.2 372 641 370.8ZM352.4 373 354 371.7 357 371.9 360 374 362.5 377 361.8 378 358 380 355.1 380 352.9 377 352.3 375ZM406 374 407.8 376 408.1 379 406 381.7 403 382.5 402 381.5 402.1 379 404 375.4ZM170 378.4 173 378.4 176.5 380 180.3 383 182.2 386 182.3 388 181.4 390 176.8 393 176.1 398 164 398 161.4 394 161 392 161.6 390 166.5 386 167.7 381ZM234.7 394 235.3 391 236.7 388 241 383 243 382.1 248 384.7 251 385.6 260 384.4 264.4 385 265.8 386 265.6 389 266 390 271 394.2 273.1 398 256.1 398 257 393 256.8 392 255 390.9 252 391.6 247.2 398 234.5 398ZM457.3 387 457.5 390 453.4 395 452.3 398 427.9 398 429.1 396 429.5 394 426.5 388 428 386.7 431 386.2 439 386.6 444.6 384 451 382.9 454.8 384ZM417 384.3 419.5 385 421.2 387 419 390.4 417 391.7 416 391.7 414.4 390 413.8 387 414.7 385ZM580.9 391 582 389 584 388.2 589.9 390 591.2 391 591.4 392 590 392.7 587 392.1 582 392.1ZM377.3 398 347.5 398 348.3 397 350 396.4 356 397.6 359 396.8 362.5 395 366 391.4 368 390.3 370 390.7 375.6 394 376.9 396ZM566 391.7 567 391.5 574.9 396 576.4 398 565.4 398ZM643.4 398 645 394 646.6 393 648 392.8 650 394.4 651.8 398Z"/>
<path fill="#890000" fill-rule="evenodd" d="M397 86.1 400.8 87 403.4 97 402.1 100 401.3 104 401.3 113 400 115.4 398 115.7 396.6 113 396.1 109 396.4 104 395.6 100 392.3 95 392.7 92 392.2 89 394.3 87ZM425.7 91 425.8 92 425.2 93 416 98.4 413 98.5 410.2 97 414 93 419 91.2 420 89.1 424 89.6ZM414.7 141 414.4 137 415.4 134 419.2 129 423 126.4 426 126.1 432 127.4 438 127.5 443 128.3 448.8 128 449.4 129 449.4 130 447.8 132 444 132.5 442 133.7 440.5 136 439.2 140 437.5 143 434 146.3 430 148.6 426 149.1 423 148.1 417 144ZM473.5 179 476 177.5 479 177 490 179.2 496.4 183 503.3 190 505 193 504.6 196 503 197.9 498.4 201 498 203 500 205.1 508 207.7 510.5 210 511 213 510 220 509 221.6 507 222.5 504 222 496.7 217 492 212.7 490.2 208 490.3 202 489.4 200 485 196 474 188 472.4 186 471.6 184 471.5 182ZM565.4 202 568 202 570 203 572.7 207 572.8 211 571.7 213 570 214.4 568 214.8 566 214.3 564 212.3 563 210.4 562.4 205 563.6 203ZM201.1 219 202.8 216 205 214.6 215 212.1 218 212.1 222 213.4 225.4 216 226.4 218 227.5 224 226.3 226 224 227.2 221 227.6 218 227.3 211 224.6 204 223 201.4 221ZM156 247.4 160 246.9 165 247.8 168 249.6 169.4 252 169.7 255 169 257.6 165.6 261 164.7 263 166 264 170 263.4 170.2 267 169 270.4 166 272.7 163.2 273 161 272.4 158.6 270 157.3 261 153 253 153.3 250 154 248.8ZM322.2 291 321 293.7 320 294.4 314 292.4 312 292.3 294 297.3 292 297 290.7 296 289.1 294 288.7 292 289.5 290 292 288.5 295 288.3 302 289.7 304 289.2 307 287.3 313 289.7 319 289.2 321 289.4 322.1 290ZM221.2 304 220.5 309 217.8 315 213 321 211 322.6 209 323.3 205 321.6 199 316 197.4 313 196.1 306 195 303.9 193 304.1 186 311.7 184 312.9 182 313.4 179.3 313 177 311.6 172.3 307 171.2 304 172 301.5 176 301.3 184 299.5 187 297.8 191 296.9 195 298 197 297.6 203 293 206 291.9 209 292.7 219 298.8 220.5 301ZM321 298.7 326 302.1 331.6 308 334.3 312 335.3 316 335 321 333.3 325 329 328.7 324 330.9 322 330.2 320.6 328 318.7 323 317.8 318 318.7 301 319.8 299ZM432 318.2 433 317.6 435 317.4 437 318.9 437.5 321 436.4 323 434 324 431.6 323 430.8 321ZM447 319 446 319.5 444 322.1 443.5 320 444 319ZM541 362 543.3 360 552 356.7 559 355.4 564 355.8 567 357.4 569.8 361 570.8 365 570.4 370 568 373.7 564 376.4 560 377.4 556 376.9 551.4 375 550.5 374 550.1 369 549 366.7 547 366.1 544 368.3 543 368.1 540.8 365Z"/>
<path fill="#800000" fill-rule="evenodd" d="M424 129.3 427 129.3 431 130.5 433.6 132 434.6 134 434.8 136 434 138.6 431.6 141 430.4 144 428 145.4 425 145.4 423.2 144 423.1 140 419.5 134 421.3 131ZM478.9 183 479.6 182 481 181.3 484.9 181 488.6 182 489.5 184 489.3 185 488 185.7 482 184.7 479 185ZM165 251.1 165.5 253 163 255.6 159 256.4 157.4 255 158 253.5 160 251.8 163 250.9ZM215 301.3 217.1 304 217.4 307 215.9 311 213 314.2 212 313.8 211 312 210.3 309 210.3 306 211.7 303Z"/>
</g>
<path d="M681.5 192h2.5v1.5l15.5 13.5-.7.8-15-13.6h-2.3z" fill="#ff3000"/>
<rect x="646" y="201" width="4.5" height="3" fill="#ff3000"/>
<path d="M637 214h2v-3h2v-2h2v-4h2v5h-2v2h-2v3h-2v1.5h-2z" fill="#a00000"/>
<rect x="175" y="352" width="7" height="2.2" fill="#b00000"/>
<g stroke="#262626" stroke-width="1" fill="none" shape-rendering="crispEdges">
<rect x="125.5" y="37.5" width="655.0" height="393.0"/>
<path d="M219.5 431.0V424.0M219.5 37.0V44.0M312.5 431.0V424.0M312.5 37.0V44.0M406.5 431.0V424.0M406.5 37.0V44.0M499.5 431.0V424.0M499.5 37.0V44.0M593.5 431.0V424.0M593.5 37.0V44.0M686.5 431.0V424.0M686.5 37.0V44.0M125.0 381.5H133.0M781.0 381.5H773.0M125.0 332.5H133.0M781.0 332.5H773.0M125.0 283.5H133.0M781.0 283.5H773.0M125.0 233.5H133.0M781.0 233.5H773.0M125.0 184.5H133.0M781.0 184.5H773.0M125.0 135.5H133.0M781.0 135.5H773.0M125.0 86.5H133.0M781.0 86.5H773.0"/>
</g>
<text class="tt" x="181.3" y="27.6">REFERENCE ET (mm) Priestly Taylor 14-Nov-2025</text>
<g class="tk" text-anchor="end" ><text x="116.7" y="437.6">18.3</text><text x="116.7" y="388.5">18.31</text><text x="116.7" y="339.4">18.32</text><text x="116.7" y="290.2">18.33</text><text x="116.7" y="241.1">18.34</text><text x="116.7" y="192.0">18.35</text><text x="116.7" y="142.8">18.36</text><text x="116.7" y="93.7">18.37</text><text x="116.7" y="44.6">18.38</text></g>
<g class="tk" text-anchor="middle" ><text x="124.7" y="459.9">-64.8</text><text x="218.3" y="459.9">-64.78</text><text x="311.8" y="459.9">-64.76</text><text x="405.4" y="459.9">-64.74</text><text x="499.0" y="459.9">-64.72</text><text x="592.6" y="459.9">-64.7</text><text x="686.1" y="459.9">-64.68</text><text x="779.7" y="459.9">-64.66</text></g>
<text class="lb" transform="translate(453,491)" text-anchor="middle">Longitude</text>
<text class="lb" transform="translate(51.9,234.3) rotate(-90)" style="letter-spacing:0" text-anchor="middle">Latitude</text>
<rect x="126.5" y="514.5" width="653" height="33" fill="url(#jet)" stroke="#262626" stroke-width="1" shape-rendering="crispEdges"/>
<path d="M200.5 547.5v-7M316.5 547.5v-7M433.5 547.5v-7M549.5 547.5v-7M665.5 547.5v-7" stroke="#262626" stroke-width="1" fill="none" shape-rendering="crispEdges"/>
<g class="cb" text-anchor="middle" ><text x="200.3" y="575">4</text><text x="316.7" y="575">4.2</text><text x="433.1" y="575">4.4</text><text x="549.5" y="575">4.6</text><text x="665.9" y="575">4.8</text></g>
</svg>
</body></html>
